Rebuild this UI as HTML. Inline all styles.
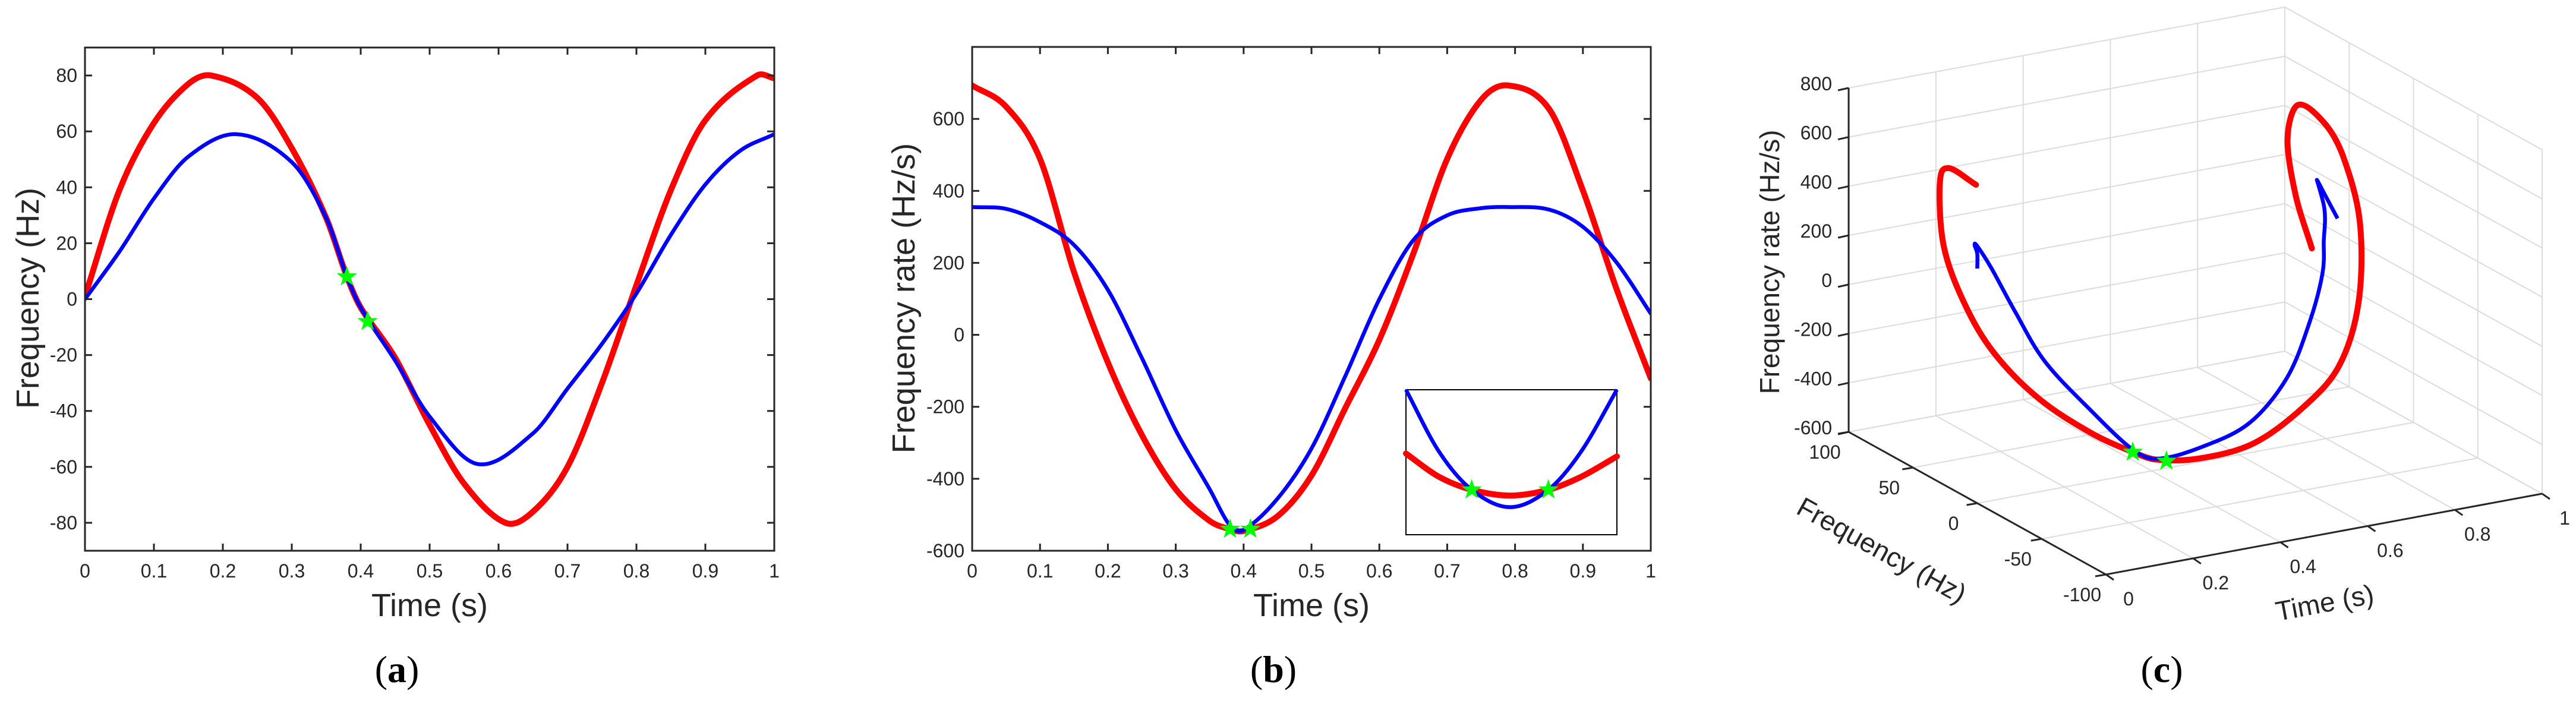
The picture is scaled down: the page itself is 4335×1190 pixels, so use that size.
<!DOCTYPE html>
<html><head><meta charset="utf-8"><style>
html,body{margin:0;padding:0;background:#fff;}
svg{display:block;font-family:"Liberation Sans",Arial,sans-serif;}
</style></head><body>
<svg id="fig" width="4335" height="1190" viewBox="0 0 4335 1190" xmlns="http://www.w3.org/2000/svg">
<rect width="4335" height="1190" fill="#fff"/>
</svg>
<script>
// ---- data ----
const timeSamples = [0,0.05,0.1,0.15,0.183,0.25,0.3,0.35,0.38,0.4,0.45,0.5,0.55,0.61,0.65,0.7,0.75,0.8,0.85,0.9,0.975,1.0];
const freqRed  = [1,39,63,77,80,72,54,29,8,-3,-21,-45,-66,-80,-76,-60,-30,5,39,64,80,79];
const timeBlue = [0,0.05,0.1,0.15,0.22,0.3,0.35,0.38,0.4,0.45,0.5,0.57,0.65,0.7,0.75,0.8,0.85,0.9,0.95,1.0];
const freqBlue = [0,17,36,51,59,49,29,8,-3,-22,-42,-59,-48,-32,-16,2,23,41,53,59];
const timeRate = [0,0.05,0.1,0.15,0.2,0.25,0.3,0.35,0.38,0.4,0.45,0.5,0.55,0.6,0.65,0.7,0.75,0.79,0.85,0.9,0.95,1.0];
const rateRed  = [693,634,489,175,-77,-278,-429,-517,-540,-545,-504,-391,-203,-14,225,489,653,693,628,401,125,-121];
const rateBlue = [355,350,313,250,125,-64,-265,-429,-530,-542,-455,-316,-114,99,263,332,352,355,348,300,200,59];
const starTimes = [0.38,0.41];
const starFreq  = [8,-8];
const starRate  = [-540,-540];
const insetTimes = [0.358,0.37,0.382,0.396,0.41,0.422,0.435];
const insetBlue  = [-515,-532,-542.6,-547.4,-542.6,-532,-515];
const insetRed   = [-532.6,-539,-542.6,-544.2,-542.6,-539,-533.4];
const xTicks = [0,0.1,0.2,0.3,0.4,0.5,0.6,0.7,0.8,0.9,1];
const xTickLabels = ["0","0.1","0.2","0.3","0.4","0.5","0.6","0.7","0.8","0.9","1"];
const yTicksA = [-80,-60,-40,-20,0,20,40,60,80];
const yTicksB = [-600,-400,-200,0,200,400,600];
const tTicks3 = [0,0.2,0.4,0.6,0.8,1];
const fTicks3 = [100,50,0,-50,-100];
const zTicks3 = [-600,-400,-200,0,200,400,600,800];

const NS = "http://www.w3.org/2000/svg";
const svg = document.getElementById('fig');
function el(tag, attrs, parent, text){
  const e = document.createElementNS(NS, tag);
  for (const k in attrs) e.setAttribute(k, attrs[k]);
  if (text !== undefined) e.textContent = text;
  (parent||svg).appendChild(e);
  return e;
}
function hermitePath(ts, pts){
  const n = pts.length;
  const tan = pts.map((p,i)=>{
    const a = Math.max(0,i-1), b = Math.min(n-1,i+1);
    const dt = ts[b]-ts[a];
    return [(pts[b][0]-pts[a][0])/dt, (pts[b][1]-pts[a][1])/dt];
  });
  let d = "M"+pts[0][0].toFixed(2)+","+pts[0][1].toFixed(2);
  for (let i=0;i<n-1;i++){
    const h = (ts[i+1]-ts[i])/3;
    const c1=[pts[i][0]+tan[i][0]*h, pts[i][1]+tan[i][1]*h];
    const c2=[pts[i+1][0]-tan[i+1][0]*h, pts[i+1][1]-tan[i+1][1]*h];
    d += " C"+c1[0].toFixed(2)+","+c1[1].toFixed(2)+" "+c2[0].toFixed(2)+","+c2[1].toFixed(2)+" "+pts[i+1][0].toFixed(2)+","+pts[i+1][1].toFixed(2);
  }
  return d;
}
function starPath(cx, cy, r){
  let d="";
  for (let i=0;i<10;i++){
    const a = -Math.PI/2 + i*Math.PI/5;
    const rr = i%2===0 ? r : r*0.4;
    d += (i===0?"M":"L")+(cx+rr*Math.cos(a)).toFixed(1)+","+(cy+rr*Math.sin(a)).toFixed(1);
  }
  return d+"Z";
}
const AX = "#262626";

function panel2D(cfg){
  const g = el('g', {});
  
  
  const sx = v => cfg.x0 + (v - cfg.xmin)/(cfg.xmax-cfg.xmin)*(cfg.x1-cfg.x0);
  const sy = v => cfg.y1 - (v - cfg.ymin)/(cfg.ymax-cfg.ymin)*(cfg.y1-cfg.y0);
  const clip = el('clipPath', {id: cfg.name+'-clip'}, g);
  el('rect', {x:cfg.x0, y:cfg.y0, width:cfg.x1-cfg.x0, height:cfg.y1-cfg.y0}, clip);
  const curves = el('g', {'clip-path':'url(#'+cfg.name+'-clip)'}, g);
  cfg.series.forEach(s=>{
    const p = el('path', {d: hermitePath(s.t, s.t.map((t,i)=>[sx(t), sy(s.v[i])])), fill:'none', stroke:s.color, 'stroke-width':s.w, 'stroke-linecap':'round', 'stroke-linejoin':'round'}, curves);
    
    
  });
  starTimes.forEach((t,i)=>{
    const s = el('path', {d: starPath(sx(t), sy(cfg.stars[i]), 15), fill:'#00ff00', stroke:'#00ff00', 'stroke-width':2}, g);
    
    
  });
  const box = el('rect', {x:cfg.x0, y:cfg.y0, width:cfg.x1-cfg.x0, height:cfg.y1-cfg.y0, fill:'none', stroke:AX, 'stroke-width':3}, g);
  
  
  xTicks.forEach((t,i)=>{
    const x = sx(t);
    el('line', {x1:x, y1:cfg.y1, x2:x, y2:cfg.y1-12, stroke:AX, 'stroke-width':3}, g);
    el('line', {x1:x, y1:cfg.y0, x2:x, y2:cfg.y0+12, stroke:AX, 'stroke-width':3}, g);
    const tl = el('text', {x:x, y:cfg.y1+45, 'font-size':32, fill:AX, 'text-anchor':'middle'}, g, xTickLabels[i]);
    
    
  });
  cfg.yticks.forEach(v=>{
    const y = sy(v);
    el('line', {x1:cfg.x0, y1:y, x2:cfg.x0+12, y2:y, stroke:AX, 'stroke-width':3}, g);
    el('line', {x1:cfg.x1, y1:y, x2:cfg.x1-12, y2:y, stroke:AX, 'stroke-width':3}, g);
    const tl = el('text', {x:cfg.x0-13, y:y+11, 'font-size':32, fill:AX, 'text-anchor':'end'}, g, String(v));
    
    
  });
  const xt = el('text', {x:(cfg.x0+cfg.x1)/2, y:1037, 'font-size':54, fill:AX, 'text-anchor':'middle'}, g, 'Time (s)');
  
  
  const yt = el('text', {x:0, y:0, 'font-size':54, fill:AX, 'text-anchor':'middle', transform:'translate('+(cfg.ytx+19)+','+cfg.yty+') rotate(-90)'}, g, cfg.ytitle);
  
  
  const cap = el('text', {x:cfg.capx, y:1148, 'font-size':64, fill:'#000', 'text-anchor':'middle', 'font-family':'"Liberation Serif",serif'}, g);
  
  
  el('tspan', {}, cap, '(');
  el('tspan', {'font-weight':'bold'}, cap, cfg.letter);
  el('tspan', {}, cap, ')');
  return {g, sx, sy};
}

panel2D({name:'panel-a', x0:143, x1:1303, y0:80, y1:927, xmin:0, xmax:1, ymin:-90, ymax:90,
  series:[{name:'red-frequency-curve', t:timeSamples, v:freqRed, color:'#ff0000', w:10},
          {name:'blue-frequency-curve', t:timeBlue, v:freqBlue, color:'#0000ff', w:6.5}],
  stars: starFreq, yticks: yTicksA, ytitle:'Frequency (Hz)', ytx:46, yty:502, capx:668, letter:'a'});

panel2D({name:'panel-b', x0:1636, x1:2778, y0:79, y1:927, xmin:0, xmax:1, ymin:-600, ymax:800,
  series:[{name:'red-rate-curve', t:timeRate, v:rateRed, color:'#ff0000', w:10},
          {name:'blue-rate-curve', t:timeRate, v:rateBlue, color:'#0000ff', w:6.5}],
  stars: starRate, yticks: yTicksB, ytitle:'Frequency rate (Hz/s)', ytx:1520, yty:502, capx:2143, letter:'b'});

(function(){
  const ix0=2366, ix1=2721, iy0=656, iy1=900;
  const tmin=insetTimes[0], tmax=insetTimes[insetTimes.length-1], vmin=-555, vmax=-515;
  const sx = t => ix0 + (t-tmin)/(tmax-tmin)*(ix1-ix0);
  const sy = v => iy0 + (vmax-v)/(vmax-vmin)*(iy1-iy0);
  const g = el('g', {});
  
  
  el('rect', {x:ix0, y:iy0, width:ix1-ix0, height:iy1-iy0, fill:'#fff', stroke:'#000', 'stroke-width':2}, g);
  const r = el('path', {d:hermitePath(insetTimes, insetTimes.map((t,i)=>[sx(t), sy(insetRed[i])])), fill:'none', stroke:'#ff0000', 'stroke-width':10, 'stroke-linecap':'round'}, g);
  
  
  const b = el('path', {d:hermitePath(insetTimes, insetTimes.map((t,i)=>[sx(t), sy(insetBlue[i])])), fill:'none', stroke:'#0000ff', 'stroke-width':6.5}, g);
  
  
  starTimes.forEach((t,i)=>{
    const idx = i===0 ? 2 : 4;
    const s = el('path', {d: starPath(sx(insetTimes[idx]), sy(insetRed[idx]), 15), fill:'#00ff00', stroke:'#00ff00', 'stroke-width':2}, g);
    
    
  });
})();

(function(){
  const O=[3111,727], VT=[734,-136], VF=[433,240], VZ=[0,-579];
  const P = (t,f,z)=>{
    const a=(100-f)/200, c=(z+600)/1400;
    return [O[0]+t*VT[0]+a*VF[0]+c*VZ[0], O[1]+t*VT[1]+a*VF[1]+c*VZ[1]];
  };
  const g = el('g', {});
  
  
  const grid = el('g', {}, g);
  
  
  const ln = (a,b,parent,stroke,w)=>el('line', {x1:a[0],y1:a[1],x2:b[0],y2:b[1], stroke:stroke||'#dcdcdc', 'stroke-width':w||2}, parent);
  tTicks3.forEach(t=>ln(P(t,100,-600),P(t,100,800),grid));
  zTicks3.forEach(z=>ln(P(0,100,z),P(1,100,z),grid));
  fTicks3.forEach(f=>ln(P(1,f,-600),P(1,f,800),grid));
  zTicks3.forEach(z=>ln(P(1,100,z),P(1,-100,z),grid));
  tTicks3.forEach(t=>ln(P(t,100,-600),P(t,-100,-600),grid));
  fTicks3.forEach(f=>ln(P(0,f,-600),P(1,f,-600),grid));
  const axes = el('g', {}, g);
  
  
  ln(P(0,100,-600),P(0,100,800),axes,AX,3);
  ln(P(0,100,-600),P(0,-100,-600),axes,AX,3);
  ln(P(0,-100,-600),P(1,-100,-600),axes,AX,3);
  zTicks3.forEach(z=>{
    const p=P(0,100,z);
    ln(p,[p[0]-18,p[1]+4],axes,AX,3);
    const tl = el('text', {x:p[0]-28, y:p[1]+4, 'font-size':32, fill:AX, 'text-anchor':'end'}, axes, String(z));
    
    
  });
  fTicks3.forEach(f=>{
    const p=P(0,f,-600);
    ln(p,[p[0]-18,p[1]+3],axes,AX,3);
    const tl = el('text', {x:p[0]-40, y:p[1]+45, 'font-size':32, fill:AX, 'text-anchor':'middle'}, axes, String(f));
    
    
  });
  tTicks3.forEach(t=>{
    const p=P(t,-100,-600);
    ln(p,[p[0]+13,p[1]+9],axes,AX,3);
    const tl = el('text', {x:p[0]+38, y:p[1]+52, 'font-size':32, fill:AX, 'text-anchor':'middle'}, axes, String(t));
    
    
  });
  const zt = el('text', {x:0,y:0,'font-size':46,fill:AX,'text-anchor':'middle',transform:'translate(2994,441) rotate(-90)'}, g, 'Frequency rate (Hz/s)');
  
  
  const ft = el('text', {x:0,y:0,'font-size':46,fill:AX,'text-anchor':'middle',transform:'translate(3159,940) rotate(29)'}, g, 'Frequency (Hz)');
  
  
  const tt = el('text', {x:0,y:0,'font-size':46,fill:AX,'text-anchor':'middle',transform:'translate(3915,1030) rotate(-10.5)'}, g, 'Time (s)');
  
  
  const interp = (ts, vs, t)=>{
    for (let i=0;i<ts.length-1;i++) if (t>=ts[i] && t<=ts[i+1]) return vs[i]+(vs[i+1]-vs[i])*(t-ts[i])/(ts[i+1]-ts[i]);
    return vs[vs.length-1];
  };
  const redPts = timeRate.map((t,i)=>P(t, interp(timeSamples,freqRed,t), rateRed[i]));
  const bluePts = timeRate.map((t,i)=>P(t, interp(timeBlue,freqBlue,t), rateBlue[i]));
  const r = el('path', {d:hermitePath(timeRate, redPts), fill:'none', stroke:'#ff0000', 'stroke-width':10, 'stroke-linecap':'round'}, g);
  
  
  const b = el('path', {d:hermitePath(timeRate, bluePts), fill:'none', stroke:'#0000ff', 'stroke-width':6.5}, g);
  
  
  starTimes.forEach((t,i)=>{
    const p = P(t, starFreq[i], starRate[i]);
    const s = el('path', {d: starPath(p[0], p[1], 15), fill:'#00ff00', stroke:'#00ff00', 'stroke-width':2}, g);
    
    
  });
  const cap = el('text', {x:3638, y:1148, 'font-size':64, fill:'#000', 'text-anchor':'middle', 'font-family':'"Liberation Serif",serif'}, g);
  
  
  el('tspan', {}, cap, '(');
  el('tspan', {'font-weight':'bold'}, cap, 'c');
  el('tspan', {}, cap, ')');
})();
</script>
</body></html>
